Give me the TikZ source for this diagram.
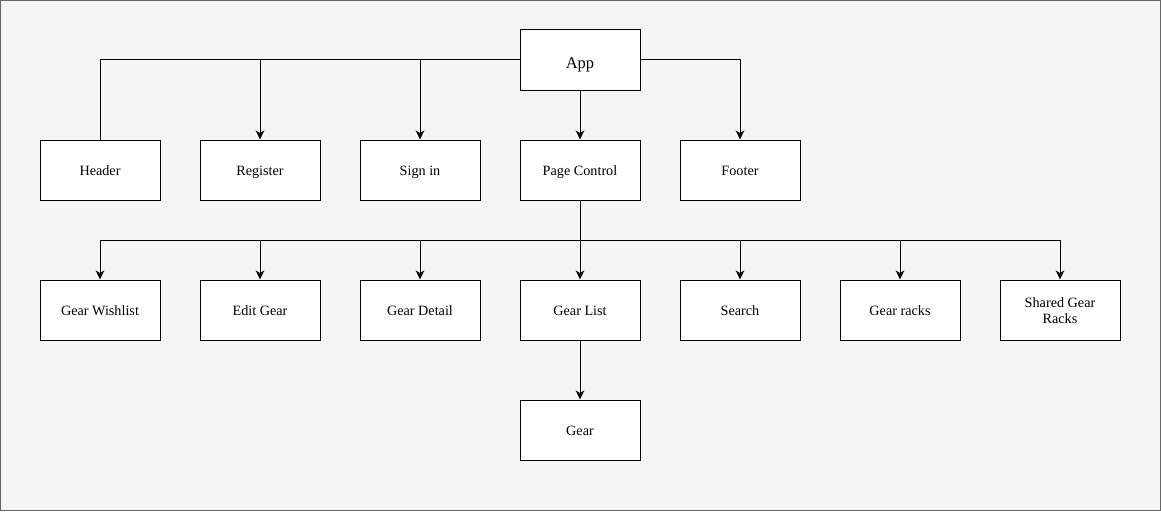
\documentclass[tikz,border=0pt]{standalone}
\usepackage{fontspec}
\setmainfont{Liberation Serif}
\usetikzlibrary{arrows.meta}
\definecolor{bgc}{HTML}{F5F5F5}
\definecolor{bdc}{HTML}{666666}
\begin{document}
\begin{tikzpicture}[x=1pt,y=-1pt,
  box/.style={draw=black,fill=white,line width=1pt,minimum width=120pt,minimum height=60pt,inner sep=2pt,align=center,font=\fontsize{14.2}{16}\selectfont},
  one/.style={text height=11pt,text depth=1pt},
  link/.style={draw=black,line width=1pt},
  arr/.style={link,-{Stealth[length=9pt,width=8.5pt,inset=2.5pt]}}]
\path[fill=bgc,draw=bdc,line width=1pt] (0.5,0.5) rectangle (1160.5,510.5);
\useasboundingbox (0,0) rectangle (1161,511);
\node[box,font=\fontsize{16.5}{18}\selectfont,text height=17pt,text depth=1pt] (app) at (580,60) {App};
\node[box,one] (header) at (100,170) {Header};
\node[box,one] (register) at (260,170) {Register};
\node[box,one] (signin) at (420,170) {Sign in};
\node[box,one] (page) at (580,170) {Page Control};
\node[box,one] (footer) at (740,170) {Footer};
\node[box,one] (wish) at (100,310) {Gear Wishlist};
\node[box,one] (edit) at (260,310) {Edit Gear};
\node[box,one] (detail) at (420,310) {Gear Detail};
\node[box,one] (list) at (580,310) {Gear List};
\node[box,one] (search) at (740,310) {Search};
\node[box,one] (racks) at (900,310) {Gear racks};
\node[box] (shared) at (1060,310) {\strut Shared Gear\\Racks};
\node[box,one] (gear) at (580,430) {Gear};
% top level
\coordinate (hl) at (100,60);
\coordinate (rj) at (260,60);
\coordinate (sj) at (420,60);
\coordinate (fj) at (740,60);
\draw[link] (app.west) -- (hl) -- (header.north);
\draw[arr] (rj) -- (register.north);
\draw[arr] (sj) -- (signin.north);
\draw[arr] (app.south) -- (page.north);
\draw[arr] (app.east) -- (fj) -- (footer.north);
% second level
\coordinate (pj) at (580,240);
\coordinate (l1) at (100,240);
\coordinate (l7) at (1060,240);
\draw[link] (page.south) -- (pj);
\draw[link] (l1) -- (l7);
\foreach \n/\x in {wish/100,edit/260,detail/420,list/580,search/740,racks/900,shared/1060}{
  \draw[arr] (\x,240) -- (\n.north);
}
\draw[arr] (list.south) -- (gear.north);
\end{tikzpicture}
\end{document}
